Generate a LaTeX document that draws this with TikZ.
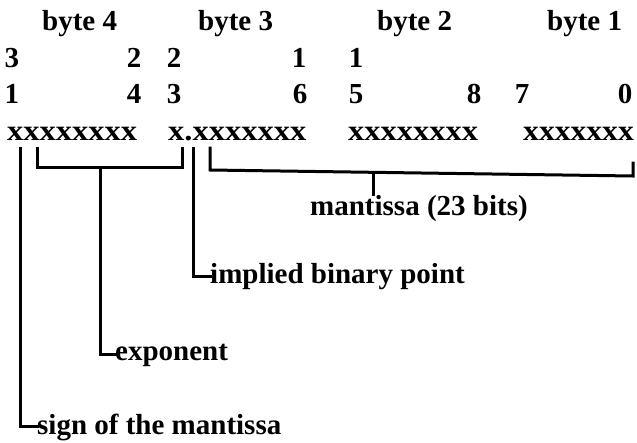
\documentclass[tikz,border=0pt]{standalone}
\usepackage{fontspec}
\usepackage{graphicx}
\setmainfont{Liberation Serif}
\begin{document}
\begin{tikzpicture}[x=1pt,y=-1pt,
  lbl/.style={inner sep=0pt,font=\fontsize{29}{34}\selectfont\bfseries},
  num/.style={lbl,anchor=base},
  lw/.style={inner sep=0pt,anchor=base west,font=\fontsize{29}{34}\selectfont\bfseries},
  bar/.style={line width=3pt,line cap=rect,line join=miter}]
\useasboundingbox (0,0) rectangle (637,442);
% byte headings
\node[lw] (b4) at (42,30) {byte 4};
\node[lw] (b3) at (198,30) {byte 3};
\node[lw] (b2) at (377,30) {byte 2};
\node[lw] (b1) at (547,30) {byte 1};
% bit numbers, first row
\node[num] (t31) at (12,67) {3};
\node[num] (t24) at (134,67) {2};
\node[num] (t23) at (174,67) {2};
\node[num] (t16) at (299,67) {1};
\node[num] (t15) at (356,67) {1};
% bit numbers, second row
\node[num] (u31) at (12,103) {1};
\node[num] (u24) at (134,103) {4};
\node[num] (u23) at (174,103) {3};
\node[num] (u16) at (300,103) {6};
\node[num] (u15) at (356,103) {5};
\node[num] (u8) at (474,103) {8};
\node[num] (u7) at (522,103) {7};
\node[num] (u0) at (625,103) {0};
% bit patterns
\node[lw] (x4) at (7,140) {\scalebox{1.12}[1]{xxxxxxxx}};
\node[lw] (x3) at (168,140) {\scalebox{1.12}[1]{x.xxxxxxx}};
\node[lw] (x2) at (348,140) {\scalebox{1.12}[1]{xxxxxxxx}};
\node[lw] (x1) at (523,140) {\scalebox{1.09}[1]{xxxxxxx}};
% labels
\node[lw] (man) at (310,215) {mantissa (23 bits)};
\node[lw] (ibp) at (210,283) {implied binary point};
\node[lw] (exp) at (115,360) {exponent};
\node[lw] (sgn) at (37,434) {sign of the mantissa};
% bracket coordinates
\coordinate (ml) at (210,148);
\coordinate (mr) at (633,163);
\coordinate (ms) at (373,173);
% sign
\draw[bar] (20,148) |- (sgn.west);
% exponent bracket
\draw[bar] (37,148) -- (37,167) -- (182,167) -- (182,148);
\draw[bar] (100,167) |- (exp.west);
% implied binary point
\draw[bar] (193,148) |- (ibp.west);
% mantissa bracket
\draw[bar] (ml) -- (210,170) -- (633,176) -- (mr);
\draw[bar] (ms) -- (man.north -| ms);
\end{tikzpicture}
\end{document}
